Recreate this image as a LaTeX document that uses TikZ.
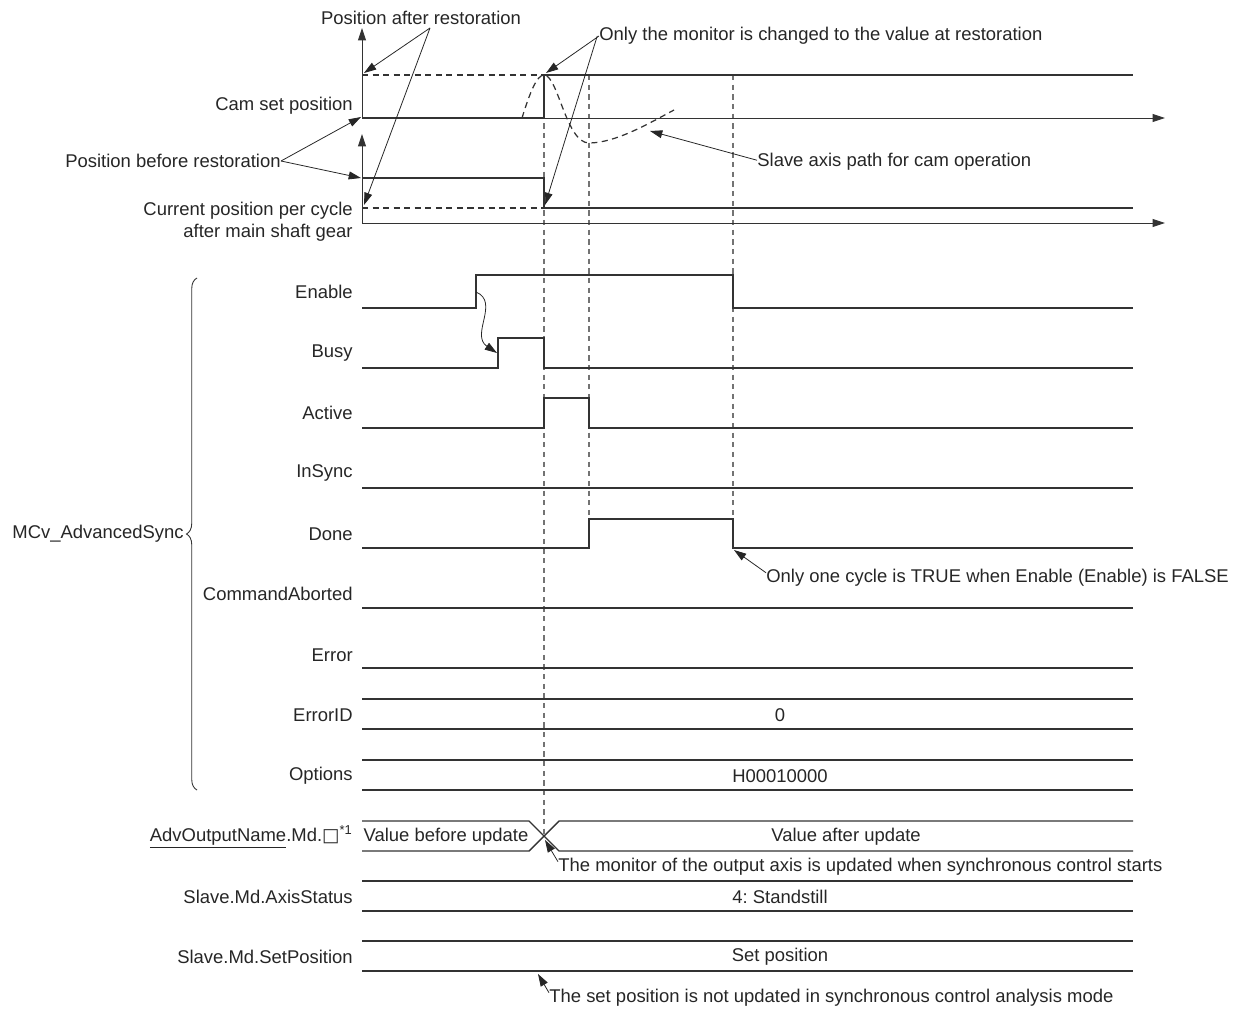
\documentclass[tikz,border=0pt]{standalone}
\usepackage{fontspec}
\setmainfont{Liberation Sans}
\newfontfamily\symfont{DejaVu Sans}
\usetikzlibrary{arrows.meta,decorations.pathreplacing}
\newcommand{\fs}{\fontsize{10.5}{12.4}\selectfont}
\frenchspacing

\begin{document}
\begin{tikzpicture}[x=0.02cm, y=-0.02cm,
        sig/.style={draw=black!80, line width=0.8pt},
        axis/.style={draw=black!80, line width=0.5pt},
        axarrow/.style={axis, -{Triangle[length=7pt,width=4.5pt]}},
        guide/.style={draw=black!55, line width=0.6pt, dash pattern=on 3pt off 2.5pt},
        refline/.style={draw=black!80, line width=0.7pt, dash pattern=on 3.5pt off 2.5pt},
        lbl/.style={anchor=east, inner sep=0pt, font=\fs, text=black!85},
        note/.style={anchor=west, inner sep=0pt, font=\fs, text=black!85},
        val/.style={inner sep=0pt, font=\fs, text=black!85},
        callout/.style={draw=black!85, line width=0.45pt, -{Triangle[length=7pt,width=4.5pt]}}
    ]
        \useasboundingbox (0,0) rectangle (1236,1010);

        % Guide lines
        \draw[guide] (544,75) -- (544,836);
        \draw[guide] (589,75) -- (589,519);
        \draw[guide] (733,75) -- (733,548);

        % Axes
        \draw[axarrow] (362,118) -- (362,28);
        \draw[axarrow] (362,118) -- (1165,118);
        \draw[axarrow] (362,223) -- (362,134);
        \draw[axarrow] (362,223) -- (1165,223);

        % Cam set position
        \draw[refline] (362,75) -- (544,75);
        \draw[sig] (362,118) -- (544,118) -- (544,75) -- (1133,75);
        \draw[refline] (522,118) .. controls (530,92) and (537,75) .. (544,75)
            .. controls (558,75) and (566,143) .. (589,143)
            .. controls (615,143) and (648,124) .. (674,110);

        % Current position per cycle
        \draw[refline] (362,208) -- (544,208);
        \draw[sig] (362,178) -- (544,178) -- (544,208) -- (1133,208);

        \node[lbl] (cam) at (353,106) {Cam set position};
        \node[lbl, align=right] (cur) at (353,222) {Current position per cycle\\after main shaft gear};

        % Signal names
        \foreach \nm/\y in {Enable/292, Busy/353, Active/413, InSync/473, Done/534,
                            CommandAborted/594, Error/655, ErrorID/715, Options/776}
            \node[lbl] (lbl-\nm) at (353,\y) {\nm};
        \node[lbl] (lbl-adv) at (353,837) {\underline{AdvOutputName}.Md.{\symfont □}\textsuperscript{*1}};
        \node[lbl] (lbl-stat) at (353,897) {Slave.Md.AxisStatus};
        \node[lbl] (lbl-setpos) at (353,957) {Slave.Md.SetPosition};

        % Bit signals
        \draw[sig] (362,308) -- (476,308) -- (476,275) -- (733,275) -- (733,308) -- (1133,308);
        \draw[sig] (362,368) -- (498,368) -- (498,338) -- (544,338) -- (544,368) -- (1133,368);
        \draw[sig] (362,428) -- (544,428) -- (544,398) -- (589,398) -- (589,428) -- (1133,428);
        \draw[sig] (362,548) -- (589,548) -- (589,519) -- (733,519) -- (733,548) -- (1133,548);
        \foreach \y in {488, 608, 668}
            \draw[sig] (362,\y) -- (1133,\y);

        % Word signals
        \foreach \y/\txt in {699/0, 760/H00010000, 881/4: Standstill, 941/Set position} {
            \draw[sig] (362,\y) -- (1133,\y);
            \draw[sig] (362,\y+30) -- (1133,\y+30);
            \node[val] at (780,\y+16) {\txt};
        }
        \draw[sig] (362,821) -- (529,821) -- (559,851) -- (1133,851);
        \draw[sig] (362,851) -- (529,851) -- (559,821) -- (1133,821);
        \node[val] (before) at (446,837) {Value before update};
        \node[val] (after) at (846,837) {Value after update};

        % Group brace
        \draw[axis, decorate, decoration={brace, amplitude=6pt}] (197,790) -- (197,278);
        \node[lbl] (grp) at (184,534) {MCv\_AdvancedSync};

        % Callouts
        \node[val] (aft) at (421,18) {Position after restoration};
        \coordinate (aft-s) at (430,28);
        \coordinate (aft-1) at (364,73);
        \coordinate (aft-2) at (364,205);
        \draw[callout] (aft-s) -- (aft-1);
        \draw[callout] (aft-s) -- (aft-2);

        \node[lbl] (bef) at (281,161) {Position before restoration};
        \coordinate (bef-1) at (361,117);
        \coordinate (bef-2) at (361,178);
        \draw[callout] (bef.east) -- (bef-1);
        \draw[callout] (bef.east) -- (bef-2);

        \node[note] (mon) at (599,36) {Only the monitor is changed to the value at restoration};
        \coordinate (mon-1) at (546,73);
        \coordinate (mon-2) at (545,205);
        \draw[callout] (mon.west) -- (mon-1);
        \draw[callout] ([xshift=-1pt]mon.west) -- (mon-2);

        \node[note] (path) at (757,162) {Slave axis path for cam operation};
        \coordinate (path-t) at (650,131);
        \draw[callout] ([yshift=1pt]path.west) -- (path-t);

        \coordinate (en-rise) at (476,292);
        \coordinate (busy-rise) at (497,353);
        \draw[callout] (en-rise) .. controls (500,302) and (470,335) .. (busy-rise);

        \node[note] (cyc) at (766,578) {Only one cycle is TRUE when Enable (Enable) is FALSE};
        \coordinate (cyc-t) at (734,550);
        \draw[callout] ([yshift=3pt]cyc.west) -- (cyc-t);

        \node[note] (upd) at (558,867) {The monitor of the output axis is updated when synchronous control starts};
        \coordinate (upd-t) at (545,840);
        \draw[callout] ([yshift=3pt]upd.west) -- (upd-t);

        \node[note] (ana) at (549,998) {The set position is not updated in synchronous control analysis mode};
        \coordinate (ana-t) at (538,974);
        \draw[callout] ([yshift=3pt]ana.west) -- (ana-t);
    \end{tikzpicture}
\end{document}
